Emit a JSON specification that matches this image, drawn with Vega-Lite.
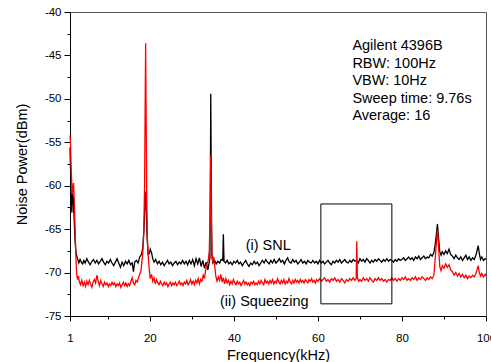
{
  "$schema": "https://vega.github.io/schema/vega-lite/v6.json",
  "autosize": "none",
  "padding": {"left": 70, "top": 12, "right": 5, "bottom": 46},
  "width": 416,
  "height": 304,
  "background": "white",
  "config": {
    "view": {"stroke": "#555", "strokeWidth": 1},
    "axis": {"grid": false, "domainColor": "#000", "tickColor": "#000", "labelColor": "#000", "titleColor": "#000", "labelFont": "Liberation Sans", "titleFont": "Liberation Sans", "titleFontWeight": "normal", "labelFontSize": 11.5, "titleFontSize": 14.5, "domainWidth": 1, "tickWidth": 1}
  },
  "datasets": {
    "snl": [
      {"x":1,"y":-55.6},{"x":1.15,"y":-58.5},{"x":1.3,"y":-61.8},{"x":1.45,"y":-63.1},{"x":1.6,"y":-60.8},{"x":1.8,"y":-61.5},{"x":2.0,"y":-64.0},{"x":2.2,"y":-66.3},{"x":2.4,"y":-67.6},{"x":2.6,"y":-68.1},{"x":2.8,"y":-68.4},{"x":3.1,"y":-68.9},{"x":3.4,"y":-68.5},{"x":3.7,"y":-68.8},{"x":4.0,"y":-69.0},{"x":4.3,"y":-68.6},{"x":4.6,"y":-68.9},{"x":5.0,"y":-68.4},{"x":5.4,"y":-68.8},{"x":5.8,"y":-69.1},{"x":6.2,"y":-68.7},{"x":6.6,"y":-68.5},{"x":7.0,"y":-68.9},{"x":7.4,"y":-68.6},{"x":7.8,"y":-69.0},{"x":8.2,"y":-68.7},{"x":8.6,"y":-68.4},{"x":9.0,"y":-68.8},{"x":9.4,"y":-69.1},{"x":9.8,"y":-68.7},{"x":10.2,"y":-68.9},{"x":10.6,"y":-68.5},{"x":11.0,"y":-68.9},{"x":11.4,"y":-69.2},{"x":11.8,"y":-68.8},{"x":12.2,"y":-68.4},{"x":12.6,"y":-68.9},{"x":13.0,"y":-69.4},{"x":13.4,"y":-68.8},{"x":13.8,"y":-69.2},{"x":14.2,"y":-68.7},{"x":14.6,"y":-69.0},{"x":15.0,"y":-68.6},{"x":15.4,"y":-69.1},{"x":15.8,"y":-68.9},{"x":16.1,"y":-69.9},{"x":16.4,"y":-68.8},{"x":16.8,"y":-68.6},{"x":17.2,"y":-68.9},{"x":17.6,"y":-68.2},{"x":18.0,"y":-67.9},{"x":18.3,"y":-67.2},{"x":18.6,"y":-65.0},{"x":18.85,"y":-62.0},{"x":19.0,"y":-60.7},{"x":19.15,"y":-62.5},{"x":19.35,"y":-66.0},{"x":19.6,"y":-67.9},{"x":19.9,"y":-67.8},{"x":20.1,"y":-67.3},{"x":20.4,"y":-67.7},{"x":20.7,"y":-68.4},{"x":21.0,"y":-68.8},{"x":21.4,"y":-68.5},{"x":21.8,"y":-69.0},{"x":22.2,"y":-68.7},{"x":22.6,"y":-69.1},{"x":23.0,"y":-68.8},{"x":23.4,"y":-69.2},{"x":23.8,"y":-68.9},{"x":24.2,"y":-68.6},{"x":24.6,"y":-69.0},{"x":25.0,"y":-68.8},{"x":25.4,"y":-69.2},{"x":25.8,"y":-68.9},{"x":26.2,"y":-68.7},{"x":26.6,"y":-69.1},{"x":27.0,"y":-68.8},{"x":27.4,"y":-69.0},{"x":27.8,"y":-68.6},{"x":28.2,"y":-69.0},{"x":28.6,"y":-68.7},{"x":29.0,"y":-69.1},{"x":29.4,"y":-68.6},{"x":29.8,"y":-69.0},{"x":30.2,"y":-68.5},{"x":30.6,"y":-69.2},{"x":31.0,"y":-68.4},{"x":31.4,"y":-69.0},{"x":31.8,"y":-68.3},{"x":32.2,"y":-69.3},{"x":32.6,"y":-68.6},{"x":33.0,"y":-69.5},{"x":33.4,"y":-68.8},{"x":33.8,"y":-69.7},{"x":34.1,"y":-68.9},{"x":34.3,"y":-68.3},{"x":34.45,"y":-55.0},{"x":34.5,"y":-49.4},{"x":34.6,"y":-58.0},{"x":34.75,"y":-68.0},{"x":35.0,"y":-68.9},{"x":35.4,"y":-68.6},{"x":35.8,"y":-69.0},{"x":36.2,"y":-68.7},{"x":36.6,"y":-68.9},{"x":37.0,"y":-68.5},{"x":37.35,"y":-68.6},{"x":37.5,"y":-65.6},{"x":37.65,"y":-68.7},{"x":38.0,"y":-68.9},{"x":38.4,"y":-68.6},{"x":38.8,"y":-69.0},{"x":39.2,"y":-68.8},{"x":39.6,"y":-69.1},{"x":40.0,"y":-68.7},{"x":40.4,"y":-68.9},{"x":40.8,"y":-68.6},{"x":41.2,"y":-69.0},{"x":41.6,"y":-68.8},{"x":42.0,"y":-69.2},{"x":42.4,"y":-68.9},{"x":42.8,"y":-68.6},{"x":43.2,"y":-69.0},{"x":43.6,"y":-69.3},{"x":44.0,"y":-68.9},{"x":44.4,"y":-69.1},{"x":44.8,"y":-68.7},{"x":45.2,"y":-69.0},{"x":45.6,"y":-68.8},{"x":46.0,"y":-69.2},{"x":46.4,"y":-68.9},{"x":46.8,"y":-68.6},{"x":47.2,"y":-68.9},{"x":47.6,"y":-68.5},{"x":48.0,"y":-68.8},{"x":48.4,"y":-69.0},{"x":48.8,"y":-68.6},{"x":49.2,"y":-68.9},{"x":49.6,"y":-68.5},{"x":50.0,"y":-68.9},{"x":50.4,"y":-68.7},{"x":50.8,"y":-68.4},{"x":51.2,"y":-68.8},{"x":51.6,"y":-68.6},{"x":52.0,"y":-69.0},{"x":52.4,"y":-68.6},{"x":52.8,"y":-68.3},{"x":53.2,"y":-68.8},{"x":53.6,"y":-68.9},{"x":54.0,"y":-68.5},{"x":54.4,"y":-68.8},{"x":54.8,"y":-68.6},{"x":55.2,"y":-69.0},{"x":55.6,"y":-68.8},{"x":56.0,"y":-68.5},{"x":56.4,"y":-68.9},{"x":56.8,"y":-68.7},{"x":57.2,"y":-69.0},{"x":57.6,"y":-68.6},{"x":58.0,"y":-68.8},{"x":58.4,"y":-68.9},{"x":58.8,"y":-68.6},{"x":59.2,"y":-68.9},{"x":59.6,"y":-68.7},{"x":60.0,"y":-69.0},{"x":60.4,"y":-68.6},{"x":60.8,"y":-68.9},{"x":61.2,"y":-68.7},{"x":61.6,"y":-69.0},{"x":62.0,"y":-68.8},{"x":62.4,"y":-68.6},{"x":62.8,"y":-68.9},{"x":63.2,"y":-69.1},{"x":63.6,"y":-68.7},{"x":64.0,"y":-68.9},{"x":64.4,"y":-68.6},{"x":64.8,"y":-68.8},{"x":65.2,"y":-68.5},{"x":65.6,"y":-68.9},{"x":66.0,"y":-68.7},{"x":66.4,"y":-68.5},{"x":66.8,"y":-68.8},{"x":67.2,"y":-68.9},{"x":67.6,"y":-68.6},{"x":68.0,"y":-68.8},{"x":68.4,"y":-68.5},{"x":68.8,"y":-68.7},{"x":69.2,"y":-68.6},{"x":69.6,"y":-68.9},{"x":70.0,"y":-68.4},{"x":70.4,"y":-68.7},{"x":70.8,"y":-68.5},{"x":71.2,"y":-68.8},{"x":71.6,"y":-68.4},{"x":72.0,"y":-68.6},{"x":72.4,"y":-68.9},{"x":72.8,"y":-68.6},{"x":73.2,"y":-68.8},{"x":73.6,"y":-68.5},{"x":74.0,"y":-68.7},{"x":74.4,"y":-68.4},{"x":74.8,"y":-68.6},{"x":75.2,"y":-68.8},{"x":75.6,"y":-68.5},{"x":76.0,"y":-68.7},{"x":76.4,"y":-68.4},{"x":76.8,"y":-68.7},{"x":77.2,"y":-68.5},{"x":77.6,"y":-68.6},{"x":78.0,"y":-68.8},{"x":78.4,"y":-68.5},{"x":78.8,"y":-68.7},{"x":79.2,"y":-68.4},{"x":79.6,"y":-68.6},{"x":80.0,"y":-68.5},{"x":80.4,"y":-68.3},{"x":80.8,"y":-68.6},{"x":81.2,"y":-68.4},{"x":81.6,"y":-68.2},{"x":82.0,"y":-68.5},{"x":82.4,"y":-68.3},{"x":82.8,"y":-68.6},{"x":83.2,"y":-68.2},{"x":83.6,"y":-68.4},{"x":84.0,"y":-68.1},{"x":84.4,"y":-68.5},{"x":84.8,"y":-68.3},{"x":85.2,"y":-68.1},{"x":85.6,"y":-68.4},{"x":86.0,"y":-68.2},{"x":86.4,"y":-68.3},{"x":86.8,"y":-67.9},{"x":87.2,"y":-68.1},{"x":87.6,"y":-67.7},{"x":87.9,"y":-66.8},{"x":88.2,"y":-65.5},{"x":88.45,"y":-64.4},{"x":88.7,"y":-66.0},{"x":89.0,"y":-67.6},{"x":89.3,"y":-68.0},{"x":89.6,"y":-67.6},{"x":90.0,"y":-67.9},{"x":90.4,"y":-67.5},{"x":90.8,"y":-67.8},{"x":91.2,"y":-67.3},{"x":91.6,"y":-67.9},{"x":92.0,"y":-68.1},{"x":92.4,"y":-68.4},{"x":92.8,"y":-68.0},{"x":93.2,"y":-68.3},{"x":93.6,"y":-68.5},{"x":94.0,"y":-68.2},{"x":94.4,"y":-68.6},{"x":94.8,"y":-68.3},{"x":95.2,"y":-68.0},{"x":95.6,"y":-68.5},{"x":96.0,"y":-68.2},{"x":96.4,"y":-68.6},{"x":96.8,"y":-68.3},{"x":97.2,"y":-68.5},{"x":97.6,"y":-68.0},{"x":97.9,"y":-67.4},{"x":98.15,"y":-66.9},{"x":98.4,"y":-67.8},{"x":98.7,"y":-68.5},{"x":99.0,"y":-68.2},{"x":99.4,"y":-68.6},{"x":99.8,"y":-68.4},{"x":100,"y":-68.5}
    ],
    "sq": [
      {"x":1,"y":-54.2},{"x":1.1,"y":-55.0},{"x":1.25,"y":-57.5},{"x":1.4,"y":-59.5},{"x":1.55,"y":-61.0},{"x":1.7,"y":-60.2},{"x":1.85,"y":-59.7},{"x":2.0,"y":-61.5},{"x":2.15,"y":-64.0},{"x":2.3,"y":-66.5},{"x":2.45,"y":-68.8},{"x":2.6,"y":-70.2},{"x":2.8,"y":-70.8},{"x":3.0,"y":-70.4},{"x":3.2,"y":-71.0},{"x":3.5,"y":-71.4},{"x":3.8,"y":-70.9},{"x":4.1,"y":-71.5},{"x":4.4,"y":-71.1},{"x":4.7,"y":-71.6},{"x":5.0,"y":-71.0},{"x":5.3,"y":-71.4},{"x":5.6,"y":-70.9},{"x":5.9,"y":-71.3},{"x":6.2,"y":-71.7},{"x":6.5,"y":-71.1},{"x":6.8,"y":-70.8},{"x":7.1,"y":-71.2},{"x":7.4,"y":-70.3},{"x":7.7,"y":-71.0},{"x":8.0,"y":-71.5},{"x":8.3,"y":-70.9},{"x":8.6,"y":-71.3},{"x":8.9,"y":-71.6},{"x":9.2,"y":-71.1},{"x":9.5,"y":-71.4},{"x":9.8,"y":-71.2},{"x":10.1,"y":-71.6},{"x":10.4,"y":-71.3},{"x":10.7,"y":-71.5},{"x":11.0,"y":-71.1},{"x":11.3,"y":-71.4},{"x":11.6,"y":-71.2},{"x":11.9,"y":-71.6},{"x":12.2,"y":-71.3},{"x":12.5,"y":-71.5},{"x":12.8,"y":-71.2},{"x":13.1,"y":-71.7},{"x":13.4,"y":-71.4},{"x":13.7,"y":-71.1},{"x":14.0,"y":-71.5},{"x":14.3,"y":-71.2},{"x":14.6,"y":-71.6},{"x":14.9,"y":-71.3},{"x":15.2,"y":-71.5},{"x":15.5,"y":-71.0},{"x":15.8,"y":-70.6},{"x":16.1,"y":-71.2},{"x":16.4,"y":-71.4},{"x":16.7,"y":-70.9},{"x":17.0,"y":-71.1},{"x":17.3,"y":-70.6},{"x":17.6,"y":-70.2},{"x":17.9,"y":-69.8},{"x":18.1,"y":-68.8},{"x":18.35,"y":-67.5},{"x":18.55,"y":-65.5},{"x":18.75,"y":-60.0},{"x":18.9,"y":-50.0},{"x":19.0,"y":-43.6},{"x":19.1,"y":-50.5},{"x":19.25,"y":-61.0},{"x":19.4,"y":-66.0},{"x":19.6,"y":-68.0},{"x":19.85,"y":-69.6},{"x":20.1,"y":-70.7},{"x":20.4,"y":-70.2},{"x":20.7,"y":-71.0},{"x":21.0,"y":-70.6},{"x":21.3,"y":-71.3},{"x":21.6,"y":-70.8},{"x":21.9,"y":-71.2},{"x":22.2,"y":-71.4},{"x":22.5,"y":-71.0},{"x":22.8,"y":-71.3},{"x":23.1,"y":-71.5},{"x":23.4,"y":-71.1},{"x":23.7,"y":-71.4},{"x":24.0,"y":-71.2},{"x":24.3,"y":-71.6},{"x":24.6,"y":-71.3},{"x":24.9,"y":-71.1},{"x":25.2,"y":-71.5},{"x":25.5,"y":-71.2},{"x":25.8,"y":-71.4},{"x":26.1,"y":-71.1},{"x":26.4,"y":-71.5},{"x":26.7,"y":-71.3},{"x":27.0,"y":-71.0},{"x":27.3,"y":-71.4},{"x":27.6,"y":-71.2},{"x":27.9,"y":-71.5},{"x":28.2,"y":-71.1},{"x":28.5,"y":-71.3},{"x":28.8,"y":-70.9},{"x":29.1,"y":-71.4},{"x":29.4,"y":-71.2},{"x":29.7,"y":-70.8},{"x":30.0,"y":-71.3},{"x":30.3,"y":-71.0},{"x":30.6,"y":-71.4},{"x":30.9,"y":-70.9},{"x":31.2,"y":-71.2},{"x":31.5,"y":-70.7},{"x":31.8,"y":-71.3},{"x":32.1,"y":-70.8},{"x":32.4,"y":-71.0},{"x":32.7,"y":-70.3},{"x":33.0,"y":-70.7},{"x":33.3,"y":-69.7},{"x":33.6,"y":-69.0},{"x":33.9,"y":-68.6},{"x":34.15,"y":-67.5},{"x":34.35,"y":-63.0},{"x":34.5,"y":-56.5},{"x":34.62,"y":-63.5},{"x":34.8,"y":-68.0},{"x":35.0,"y":-68.8},{"x":35.2,"y":-68.2},{"x":35.45,"y":-69.3},{"x":35.7,"y":-70.4},{"x":36.0,"y":-71.0},{"x":36.3,"y":-70.5},{"x":36.6,"y":-70.9},{"x":36.9,"y":-70.2},{"x":37.2,"y":-71.1},{"x":37.5,"y":-70.6},{"x":37.8,"y":-71.3},{"x":38.1,"y":-70.7},{"x":38.4,"y":-71.2},{"x":38.7,"y":-70.9},{"x":39.0,"y":-71.4},{"x":39.3,"y":-71.0},{"x":39.6,"y":-71.3},{"x":39.9,"y":-70.8},{"x":40.2,"y":-71.2},{"x":40.5,"y":-71.4},{"x":40.8,"y":-71.0},{"x":41.1,"y":-71.3},{"x":41.4,"y":-71.1},{"x":41.7,"y":-71.5},{"x":42.0,"y":-71.2},{"x":42.3,"y":-70.9},{"x":42.6,"y":-71.3},{"x":42.9,"y":-71.1},{"x":43.2,"y":-71.4},{"x":43.5,"y":-71.2},{"x":43.8,"y":-71.5},{"x":44.1,"y":-71.1},{"x":44.4,"y":-71.3},{"x":44.7,"y":-71.0},{"x":45.0,"y":-71.4},{"x":45.3,"y":-71.2},{"x":45.6,"y":-71.4},{"x":45.9,"y":-71.0},{"x":46.2,"y":-71.3},{"x":46.5,"y":-70.9},{"x":46.8,"y":-71.2},{"x":47.1,"y":-71.4},{"x":47.4,"y":-70.8},{"x":47.7,"y":-71.2},{"x":48.0,"y":-71.0},{"x":48.3,"y":-71.3},{"x":48.6,"y":-70.9},{"x":48.9,"y":-71.2},{"x":49.2,"y":-70.8},{"x":49.5,"y":-71.3},{"x":49.8,"y":-71.0},{"x":50.1,"y":-71.2},{"x":50.4,"y":-70.7},{"x":50.7,"y":-71.1},{"x":51.0,"y":-71.3},{"x":51.3,"y":-70.9},{"x":51.6,"y":-71.2},{"x":51.9,"y":-70.8},{"x":52.2,"y":-71.3},{"x":52.5,"y":-71.0},{"x":52.8,"y":-71.2},{"x":53.1,"y":-70.7},{"x":53.4,"y":-71.1},{"x":53.7,"y":-71.3},{"x":54.0,"y":-70.9},{"x":54.3,"y":-71.2},{"x":54.6,"y":-70.8},{"x":54.9,"y":-71.1},{"x":55.2,"y":-70.9},{"x":55.5,"y":-71.2},{"x":55.8,"y":-70.8},{"x":56.1,"y":-71.1},{"x":56.4,"y":-70.9},{"x":56.7,"y":-71.2},{"x":57.0,"y":-70.8},{"x":57.3,"y":-71.0},{"x":57.6,"y":-71.2},{"x":57.9,"y":-70.8},{"x":58.2,"y":-71.0},{"x":58.5,"y":-70.7},{"x":58.8,"y":-71.1},{"x":59.1,"y":-70.9},{"x":59.4,"y":-71.2},{"x":59.7,"y":-70.8},{"x":60.0,"y":-71.0},{"x":60.4,"y":-70.7},{"x":60.8,"y":-71.0},{"x":61.2,"y":-70.8},{"x":61.6,"y":-70.6},{"x":62.0,"y":-71.0},{"x":62.4,"y":-70.8},{"x":62.8,"y":-71.1},{"x":63.2,"y":-70.7},{"x":63.6,"y":-70.9},{"x":64.0,"y":-70.6},{"x":64.4,"y":-71.0},{"x":64.8,"y":-70.8},{"x":65.2,"y":-71.1},{"x":65.6,"y":-70.7},{"x":66.0,"y":-70.9},{"x":66.4,"y":-71.2},{"x":66.8,"y":-70.8},{"x":67.2,"y":-71.0},{"x":67.6,"y":-70.7},{"x":68.0,"y":-70.9},{"x":68.4,"y":-70.6},{"x":68.8,"y":-70.9},{"x":69.1,"y":-70.7},{"x":69.25,"y":-66.4},{"x":69.4,"y":-70.6},{"x":69.7,"y":-71.0},{"x":70.0,"y":-70.8},{"x":70.4,"y":-71.0},{"x":70.8,"y":-70.6},{"x":71.2,"y":-70.9},{"x":71.6,"y":-70.7},{"x":72.0,"y":-71.0},{"x":72.4,"y":-70.6},{"x":72.8,"y":-70.9},{"x":73.2,"y":-71.1},{"x":73.6,"y":-70.7},{"x":74.0,"y":-70.9},{"x":74.4,"y":-70.6},{"x":74.8,"y":-70.9},{"x":75.2,"y":-70.7},{"x":75.6,"y":-71.0},{"x":76.0,"y":-70.8},{"x":76.4,"y":-71.1},{"x":76.8,"y":-70.8},{"x":77.2,"y":-70.9},{"x":77.6,"y":-70.6},{"x":78.0,"y":-70.9},{"x":78.4,"y":-70.7},{"x":78.8,"y":-71.0},{"x":79.2,"y":-70.7},{"x":79.6,"y":-70.9},{"x":80.0,"y":-70.6},{"x":80.4,"y":-70.8},{"x":80.8,"y":-70.5},{"x":81.2,"y":-70.9},{"x":81.6,"y":-70.7},{"x":82.0,"y":-70.9},{"x":82.4,"y":-70.6},{"x":82.8,"y":-70.8},{"x":83.2,"y":-70.5},{"x":83.6,"y":-70.9},{"x":84.0,"y":-70.6},{"x":84.4,"y":-70.8},{"x":84.8,"y":-70.5},{"x":85.2,"y":-70.7},{"x":85.6,"y":-70.9},{"x":86.0,"y":-70.6},{"x":86.4,"y":-70.8},{"x":86.8,"y":-70.5},{"x":87.2,"y":-70.7},{"x":87.6,"y":-70.3},{"x":87.9,"y":-68.5},{"x":88.2,"y":-66.5},{"x":88.45,"y":-65.1},{"x":88.7,"y":-67.0},{"x":89.0,"y":-69.3},{"x":89.3,"y":-69.8},{"x":89.6,"y":-69.2},{"x":90.0,"y":-69.5},{"x":90.4,"y":-69.0},{"x":90.8,"y":-69.4},{"x":91.2,"y":-69.1},{"x":91.6,"y":-69.7},{"x":92.0,"y":-69.9},{"x":92.4,"y":-70.3},{"x":92.8,"y":-70.0},{"x":93.2,"y":-70.4},{"x":93.6,"y":-70.1},{"x":94.0,"y":-70.5},{"x":94.4,"y":-70.2},{"x":94.8,"y":-70.6},{"x":95.2,"y":-70.3},{"x":95.6,"y":-70.7},{"x":96.0,"y":-70.4},{"x":96.4,"y":-70.6},{"x":96.8,"y":-70.3},{"x":97.2,"y":-70.5},{"x":97.6,"y":-70.1},{"x":97.9,"y":-69.6},{"x":98.15,"y":-69.2},{"x":98.4,"y":-70.0},{"x":98.7,"y":-70.4},{"x":99.0,"y":-70.1},{"x":99.4,"y":-70.5},{"x":99.8,"y":-70.2},{"x":100,"y":-70.4}
    ],
    "box": [{"x": 60.7, "x2": 77.6, "y": -62.1, "y2": -73.6}],
    "notes": [
      {"x": 68.2, "y": -44.37, "label": "Agilent 4396B"},
      {"x": 68.2, "y": -46.41, "label": "RBW: 100Hz"},
      {"x": 68.2, "y": -48.43, "label": "VBW: 10Hz"},
      {"x": 68.2, "y": -50.45, "label": "Sweep time: 9.76s"},
      {"x": 68.2, "y": -52.38, "label": "Average: 16"},
      {"x": 42.8, "y": -67.4, "label": "(i) SNL"},
      {"x": 36.7, "y": -73.8, "label": "(ii) Squeezing"}
    ]
  },
  "resolve": {"axis": {"x": "independent", "y": "independent"}},
  "layer": [
    {
      "data": {"name": "snl"},
      "mark": {"type": "line", "color": "#000000", "strokeWidth": 1.3},
      "encoding": {
        "x": {"field": "x", "type": "quantitative", "scale": {"domain": [1, 100], "nice": false, "zero": false},
          "axis": {"values": [1, 20, 40, 60, 80, 100], "tickSize": 5, "labelPadding": 11, "title": "Frequency(kHz)", "titleY": 43, "titleBaseline": "alphabetic", "labelFlush": false}},
        "y": {"field": "y", "type": "quantitative", "scale": {"domain": [-75, -40], "nice": false, "zero": false},
          "axis": {"values": [-75, -70, -65, -60, -55, -50, -45, -40], "tickSize": 6, "labelPadding": 3, "labelExpr": "'' + datum.value", "title": "Noise Power(dBm)", "titleX": -44, "titleY": 152, "titleAngle": -90, "titleAlign": "center", "titleBaseline": "alphabetic", "labelFlush": false}}
      }
    },
    {
      "data": {"name": "sq"},
      "mark": {"type": "line", "color": "#ff0000", "strokeWidth": 1.3},
      "encoding": {
        "x": {"field": "x", "type": "quantitative", "scale": {"domain": [1, 100], "nice": false, "zero": false},
          "axis": {"values": [10, 30, 50, 70, 90], "tickSize": 3, "labels": false, "domain": false, "title": null, "orient": "bottom"}},
        "y": {"field": "y", "type": "quantitative", "scale": {"domain": [-75, -40], "nice": false, "zero": false},
          "axis": {"values": [-72.5, -67.5, -62.5, -57.5, -52.5, -47.5, -42.5], "tickSize": 3, "labels": false, "domain": false, "title": null, "orient": "left"}}
      }
    },
    {
      "data": {"name": "box"},
      "mark": {"type": "rect", "fillOpacity": 0, "stroke": "#000000", "strokeWidth": 1},
      "encoding": {
        "x": {"field": "x", "type": "quantitative", "scale": {"domain": [1, 100], "nice": false, "zero": false}, "axis": null},
        "x2": {"field": "x2"},
        "y": {"field": "y", "type": "quantitative", "scale": {"domain": [-75, -40], "nice": false, "zero": false}, "axis": null},
        "y2": {"field": "y2"}
      }
    },
    {
      "data": {"name": "notes"},
      "mark": {"type": "text", "align": "left", "baseline": "alphabetic", "font": "Liberation Sans", "fontSize": 14.5, "color": "#000000"},
      "encoding": {
        "x": {"field": "x", "type": "quantitative", "scale": {"domain": [1, 100], "nice": false, "zero": false}, "axis": null},
        "y": {"field": "y", "type": "quantitative", "scale": {"domain": [-75, -40], "nice": false, "zero": false}, "axis": null},
        "text": {"field": "label"}
      }
    }
  ]
}
